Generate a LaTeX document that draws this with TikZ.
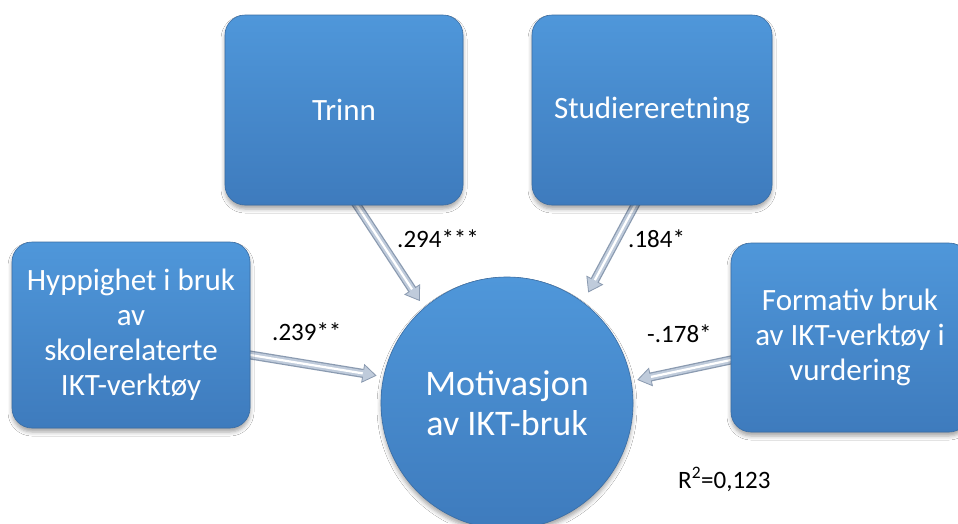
\documentclass[tikz,border=0pt]{standalone}
\usepackage{fontspec}
\setmainfont{Carlito}
\usetikzlibrary{arrows.meta,calc,shadows.blur,backgrounds}

\definecolor{boxtop}{HTML}{4F97DA}
\definecolor{boxbot}{HTML}{3E7BBD}
\definecolor{boxedge}{HTML}{3A6DA4}
\definecolor{arrowedge}{HTML}{8A9AB0}
\definecolor{arrowfill}{HTML}{BFCBDB}

\tikzset{
  bluebox/.style={rectangle, rounded corners=20pt, top color=boxtop, bottom color=boxbot,
    draw=boxedge, line width=0.6pt, text=white, align=center, inner sep=0pt,
    font=\fontsize{31}{35}\selectfont,
    blur shadow={shadow xshift=0pt, shadow yshift=-4pt, shadow blur radius=4pt, shadow opacity=35}},
  bluecircle/.style={circle, minimum size=252pt, top color=boxtop, bottom color=boxbot,
    draw=boxedge, line width=0.6pt, text=white, align=center, inner sep=0pt,
    font=\fontsize{36}{40}\selectfont,
    blur shadow={shadow xshift=0pt, shadow yshift=-4pt, shadow blur radius=4pt, shadow opacity=35}},
  coef/.style={anchor=base west, inner sep=0pt, font=\fontsize{25}{30}\selectfont},
  fatarrow/.style={line width=9pt, draw=arrowedge,
    -{Triangle[length=14pt,width=19pt,line width=0.8pt,fill=arrowfill]}},
  fatmid/.style={line width=6.5pt, draw=arrowfill},
  fatglow/.style={line width=2.2pt, draw=white},
}

% thick bevelled arrow: start, end, gap before the end
\newcommand\fatlink[3]{%
  \draw[fatarrow, shorten <=-12pt, shorten >=#3] #1 -- #2;
  \draw[fatmid, shorten <=-12pt, shorten >=#3+12pt] #1 -- #2;
  \draw[fatglow, shorten <=-12pt, shorten >=#3+14pt] #1 -- #2;
}

\begin{document}
\begin{tikzpicture}[x=1pt,y=-1pt]
  \useasboundingbox (0,0) rectangle (958,523);

  % predictor boxes
  \node[bluebox, minimum width=238pt, minimum height=190pt] (trinn) at (344,110) {Trinn};
  \node[bluebox, minimum width=240pt, minimum height=190pt] (stud) at (652,110) {Studiereretning};
  \node[bluebox, minimum width=238pt, minimum height=186pt] (hyp) at (131,335)
    {Hyppighet i bruk\\av\\skolerelaterte\\IKT-verktøy};
  \node[bluebox, minimum width=238pt, minimum height=189pt] (form) at (850,337.5)
    {Formativ bruk\\av IKT-verktøy i\\vurdering};

  % outcome
  \node[bluecircle] (mot) at (507,403) {Motivasjon\\av IKT-bruk};

  % white page and paths, drawn beneath the shapes
  \begin{scope}[on background layer]
    \fill[white] (0,0) rectangle (958,523);
    \fatlink{($(trinn.south)+(13,0)$)}{(mot.131.67)}{8pt}
    \fatlink{($(stud.south)+(-17,0)$)}{(mot.53.9)}{11pt}
    \fatlink{($(hyp.east)+(0,20)$)}{(mot.168.7)}{7pt}
    \fatlink{($(form.west)+(0,22.5)$)}{(mot.10)}{6pt}
  \end{scope}

  % coefficients
  \node[coef] (c1) at (397,247) {.294***};
  \node[coef] (c2) at (628,247) {.184*};
  \node[coef] (c3) at (272,340) {.239**};
  \node[coef] (c4) at (647,342) {-.178*};
  \node[coef] (rsq) at (678,488) {R\textsuperscript{2}=0,123};
\end{tikzpicture}
\end{document}
